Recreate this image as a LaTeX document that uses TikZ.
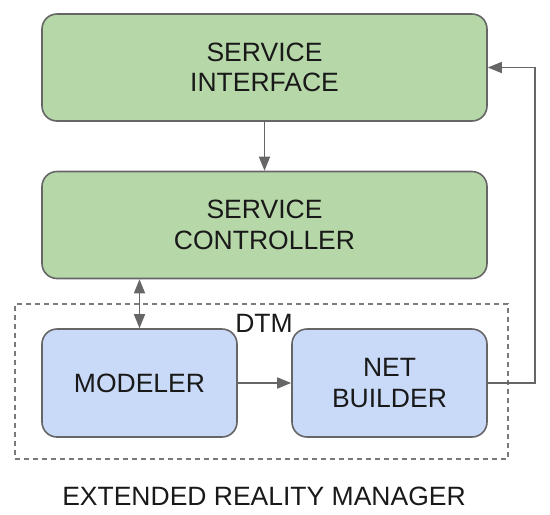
\documentclass[tikz,border=0pt]{standalone}
\usepackage{fontspec}
\setmainfont{Liberation Sans}
\usetikzlibrary{arrows.meta}
\definecolor{boxgreen}{HTML}{B6D7A8}
\definecolor{boxblue}{HTML}{C9DAF8}
\definecolor{linegray}{HTML}{666666}
\definecolor{dashgray}{HTML}{7A7A7A}
\begin{document}
\begin{tikzpicture}[x=1pt,y=-1pt,
  every node/.style={font=\fontsize{26.5}{30.5}\selectfont,text=black!90},
  block/.style={draw=linegray,line width=1.6pt,rounded corners=15pt,
    align=center,inner sep=0pt},
  service/.style={block,fill=boxgreen,minimum width=445pt,minimum height=107pt},
  twin/.style={block,fill=boxblue,minimum width=195pt,minimum height=108pt},
  group/.style={draw=dashgray,line width=1.3pt,dash pattern=on 5pt off 4pt,
    minimum width=493pt,minimum height=155pt,inner sep=0pt},
  conn/.style={linegray,line width=1.6pt,
    -{Triangle[length=14pt,width=11pt]}}]
  \useasboundingbox (0,0) rectangle (550,515);

  % upper service layer
  \node[service] (iface) at (264.5,67.5) {SERVICE\\INTERFACE};
  \node[service] (ctrl) at (264.5,225) {SERVICE\\CONTROLLER};

  % DTM group with its two parts
  \node[group] (dtm) at (261.5,381.5) {};
  \node (dtmlabel) at (264,323) {DTM};
  \node[twin] (modeler) at (139.5,383) {MODELER};
  \node[twin] (netb) at (389.5,383) {NET\\BUILDER};

  \node (title) at (264,496) {EXTENDED REALITY MANAGER};

  \draw[conn] (iface.south) -- (ctrl.north);
  \draw[conn,{Triangle[length=14pt,width=11pt]}-{Triangle[length=14pt,width=11pt]}]
    (modeler.north |- ctrl.south) -- (modeler.north);
  \draw[conn] (modeler.east) -- (netb.west);
  % feedback from the net builder back to the interface
  \draw[conn] (netb.east) -- ++(47,0) |- (iface.east);
\end{tikzpicture}
\end{document}
